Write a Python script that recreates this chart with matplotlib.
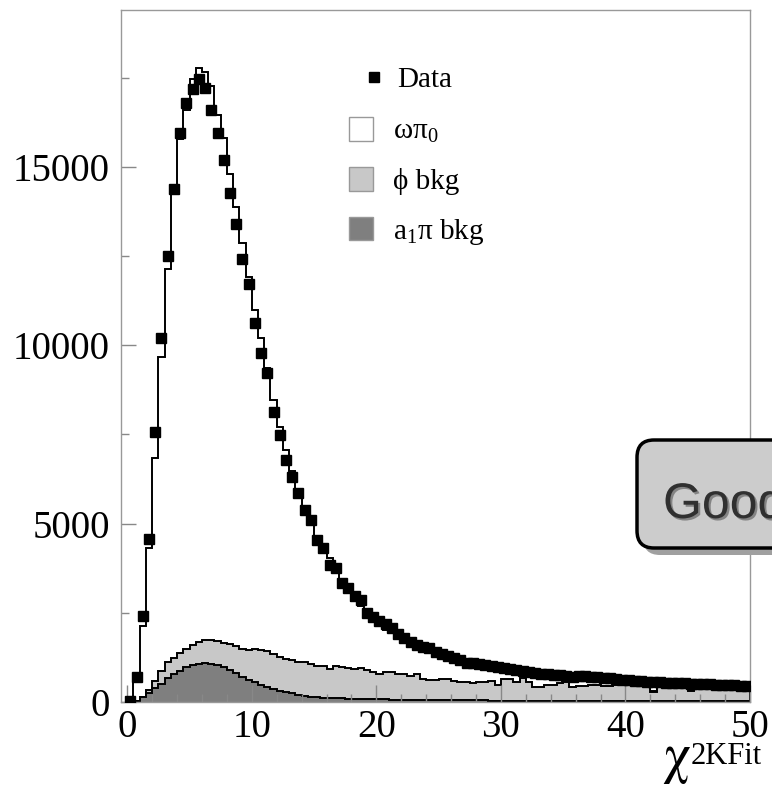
import matplotlib
matplotlib.use("Agg")
import matplotlib.pyplot as plt
import matplotlib.patheffects as pe
from matplotlib.lines import Line2D
from matplotlib.patches import Patch, FancyBboxPatch
from matplotlib.ticker import MultipleLocator
import numpy as np

plt.rcParams['font.family'] = ['Liberation Serif', 'DejaVu Serif']
plt.rcParams['mathtext.default'] = 'regular'

# binning of the chi2 histogram
bin_lo, bin_hi, bin_width = 0.0, 50.0, 0.5

# counts per bin
data_counts = [30, 700, 2400, 4580, 7570, 10210, 12490, 14390, 15960, 16800,
               17190, 17470, 17200, 16590, 15940, 15190, 14280, 13400, 12420, 11720,
               10620, 9780, 9220, 8120, 7490, 6790, 6300, 5860, 5370, 5090,
               4530, 4320, 3850, 3760, 3340, 3200, 2970, 2860, 2500, 2390,
               2270, 2180, 2085, 1900, 1806, 1684, 1600, 1555, 1500, 1388,
               1350, 1293, 1220, 1190, 1080, 1090, 1053, 1040, 997, 980,
               950, 922, 890, 866, 840, 801, 790, 774, 770, 754,
               740, 707, 720, 717, 700, 690, 670, 660, 650, 623,
               610, 600, 590, 567, 570, 555, 545, 540, 530, 525,
               515, 510, 500, 494, 490, 480, 475, 470, 460, 455]

# stacked MC: omega pi0 + phi bkg + a1 pi bkg
mc_total = [40, 735, 2130, 4320, 6850, 9660, 12140, 14240, 15770, 16610,
            17475, 17770, 17650, 17280, 16450, 15820, 14790, 13880, 12880, 11925,
            10980, 10200, 9350, 8460, 7720, 7070, 6490, 5950, 5500, 5200,
            4645, 4365, 4040, 3810, 3250, 3060, 2840, 2700, 2420, 2250,
            2130, 2020, 1960, 1800, 1700, 1620, 1530, 1470, 1400, 1330,
            1300, 1230, 1180, 1150, 1100, 1060, 1020, 1000, 960, 940,
            920, 900, 880, 960, 820, 790, 770, 750, 740, 730,
            720, 690, 700, 690, 680, 660, 650, 640, 620, 610,
            600, 580, 570, 560, 300, 520, 510, 500, 480, 470,
            330, 440, 440, 400, 420, 380, 420, 370, 400, 380]

# phi bkg stacked on a1 pi bkg
phi_plus_a1 = [10, 40, 150, 344, 596, 875, 1108, 1238, 1369, 1499,
               1592, 1685, 1741, 1741, 1700, 1655, 1620, 1574, 1480, 1452,
               1480, 1462, 1434, 1341, 1248, 1201, 1180, 1108, 1108, 1062,
               1015, 997, 922, 997, 969, 941, 922, 941, 904, 829,
               782, 848, 829, 782, 782, 740, 782, 642, 620, 620,
               642, 642, 596, 549, 570, 530, 570, 570, 596, 475,
               642, 642, 570, 660, 549, 410, 420, 475, 475, 530,
               570, 410, 457, 457, 475, 475, 457, 457, 475, 475,
               494, 494, 494, 494, 270, 475, 475, 475, 460, 450,
               300, 400, 410, 370, 390, 350, 390, 340, 370, 350]

a1pi_bkg = [0, 20, 130, 251, 382, 503, 661, 782, 875, 968,
            1033, 1061, 1080, 1070, 1033, 968, 894, 800, 689, 624,
            549, 475, 410, 363, 307, 270, 242, 205, 177, 149,
            140, 121, 115, 110, 102, 95, 90, 85, 84, 80,
            76, 72, 68, 65, 62, 60, 58, 56, 54, 52,
            50, 49, 48, 47, 46, 45, 44, 43, 42, 41,
            40, 40, 39, 38, 38, 37, 36, 36, 35, 35,
            34, 34, 33, 33, 32, 32, 31, 31, 30, 30,
            30, 29, 29, 28, 28, 28, 27, 27, 27, 26,
            26, 26, 25, 25, 25, 24, 24, 24, 23, 23]

legend_labels = ['Data', 'ωπ$_0$', 'ϕ bkg', 'a$_1$π bkg']
xticks = [0, 10, 20, 30, 40, 50]
yticks = [0, 5000, 10000, 15000]

edges = np.arange(bin_lo, bin_hi + bin_width / 2, bin_width)
centers = 0.5 * (edges[:-1] + edges[1:])

W, H = 772, 788
fig = plt.figure(figsize=(W / 100, H / 100), dpi=100)
ax = fig.add_axes([121 / W, 86 / H, 629 / W, 692 / H])

ax.stairs(mc_total, edges, fill=True, facecolor='white', edgecolor='black', linewidth=1.4)
ax.stairs(phi_plus_a1, edges, fill=True, facecolor='#c8c8c8', edgecolor='black', linewidth=1.4)
ax.stairs(a1pi_bkg, edges, fill=True, facecolor='#7f7f7f', edgecolor='black', linewidth=1.4)
ax.plot(centers, data_counts, 's', color='black', ms=6.5, zorder=5)

ax.set_xlim(-0.5, 50)
ax.set_ylim(0, 19400)
ax.set_xticks(xticks)
ax.set_yticks(yticks)
ax.xaxis.set_minor_locator(MultipleLocator(2))
ax.yaxis.set_minor_locator(MultipleLocator(2500))
ax.tick_params(which='both', direction='in', color='#888888', top=False, right=False,
               labelsize=28, labelcolor='black')
ax.tick_params(axis='x', which='major', length=12, width=1, pad=5)
ax.tick_params(axis='x', which='minor', length=6, width=1)
ax.tick_params(axis='y', which='major', length=11, width=1, pad=8)
ax.tick_params(axis='y', which='minor', length=6, width=1)
for sp in ax.spines.values():
    sp.set_color('#999999')
    sp.set_linewidth(1)

# axis title
fig.text(662 / W, 1 - 772 / H, r'$\mathrm{\chi}$', fontsize=40, va='baseline',
         math_fontfamily='stix')
fig.text(691 / W, 1 - 764 / H, '2KFit', fontsize=22, va='baseline')

# legend: data marker on its own, then the filled histograms
h_data = Line2D([], [], marker='s', ls='none', color='black', ms=6.5)
leg1 = ax.legend([h_data], legend_labels[:1], loc='center left',
                 bbox_to_anchor=((368 - 121) / 629, (702 - 80) / 692),
                 frameon=False, fontsize=21, handlelength=0.4, handletextpad=0.6,
                 borderpad=0, borderaxespad=0)
ax.add_artist(leg1)
handles = [Patch(facecolor='white', edgecolor='#999999'),
           Patch(facecolor='#c8c8c8', edgecolor='#999999'),
           Patch(facecolor='#7f7f7f', edgecolor='#999999')]
ax.legend(handles, legend_labels[1:], loc='center left',
          bbox_to_anchor=((349 - 121) / 629, (702 - 182) / 692),
          frameon=False, fontsize=21, handlelength=0.82, handleheight=0.86,
          handletextpad=0.68, labelspacing=0.75, borderpad=0, borderaxespad=0)

# rounded label box cut by the right edge
fig.add_artist(FancyBboxPatch((643 / W, 1 - 555 / H), 170 / W, 108 / H,
                              boxstyle='round,pad=0,rounding_size=0.022',
                              transform=fig.transFigure, facecolor='#a0a0a0',
                              edgecolor='none'))
fig.add_artist(FancyBboxPatch((637 / W, 1 - 548 / H), 170 / W, 108 / H,
                              boxstyle='round,pad=0,rounding_size=0.022',
                              transform=fig.transFigure, facecolor='#cccccc',
                              edgecolor='black', linewidth=2.5))
fig.text(663 / W, 1 - 518 / H, 'Good', fontsize=36, family=['Liberation Sans', 'DejaVu Sans'],
         color='#303030', va='baseline',
         path_effects=[pe.SimplePatchShadow(offset=(1.5, -1.5), shadow_rgbFace='#555555', alpha=0.6),
                       pe.Normal()])

fig.savefig('out.png', dpi=100)
